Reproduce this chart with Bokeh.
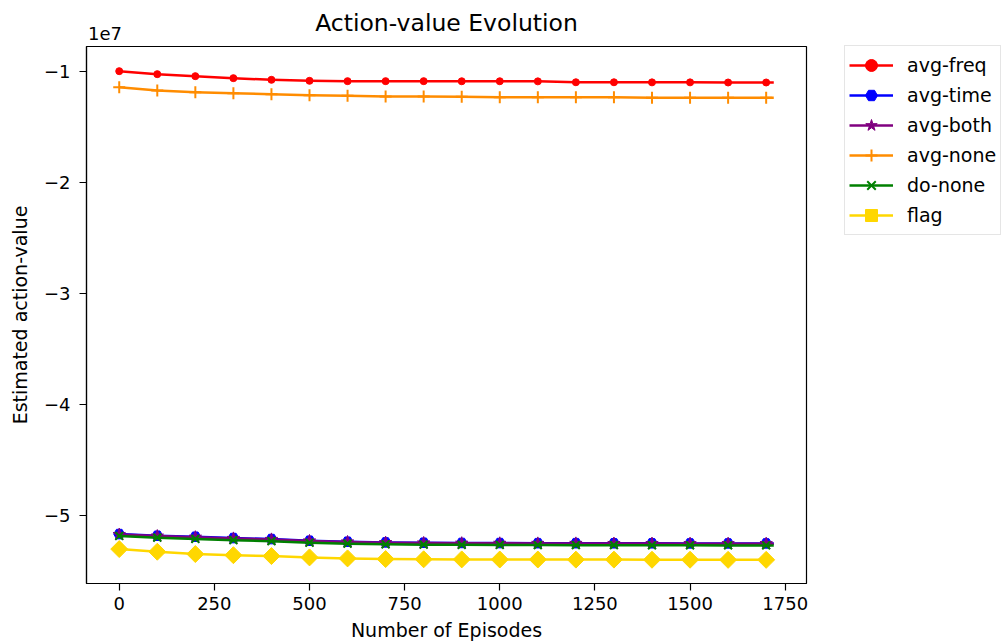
import math
from bokeh.plotting import figure
from bokeh.models import (Range1d, FixedTicker, CustomJSTickFormatter, Legend, LegendItem,
                          LinearAxis)
from bokeh.embed import file_html
from bokeh.resources import INLINE

# ---- data (values in units of 1e7) ----
episodes = [0, 100, 200, 300, 400, 500, 600, 700, 800, 900, 1000, 1100, 1200, 1300,
            1400, 1500, 1600, 1700, 1720]
n_marked = 18  # markers drawn every 100 episodes
scale = 1e7

avg_freq = [-1.000, -1.027, -1.045, -1.063, -1.078, -1.087, -1.090, -1.090, -1.090, -1.091,
            -1.091, -1.092, -1.100, -1.100, -1.101, -1.101, -1.102, -1.102, -1.102]
avg_time = [-5.168, -5.183, -5.192, -5.204, -5.213, -5.228, -5.237, -5.243, -5.246, -5.248,
            -5.249, -5.250, -5.250, -5.251, -5.251, -5.252, -5.252, -5.252, -5.252]
avg_both = [-5.172, -5.186, -5.196, -5.207, -5.216, -5.230, -5.239, -5.245, -5.248, -5.250,
            -5.251, -5.252, -5.252, -5.253, -5.253, -5.254, -5.254, -5.254, -5.254]
avg_none = [-1.144, -1.174, -1.189, -1.198, -1.207, -1.216, -1.222, -1.228, -1.228, -1.231,
            -1.234, -1.234, -1.234, -1.234, -1.240, -1.240, -1.240, -1.240, -1.240]
do_none = [-5.185, -5.200, -5.212, -5.223, -5.232, -5.246, -5.254, -5.260, -5.263, -5.265,
           -5.266, -5.267, -5.268, -5.268, -5.269, -5.269, -5.270, -5.270, -5.270]
flag = [-5.303, -5.327, -5.348, -5.358, -5.366, -5.378, -5.387, -5.393, -5.395, -5.396,
        -5.397, -5.397, -5.398, -5.398, -5.399, -5.399, -5.400, -5.400, -5.400]

series_names = ["avg-freq", "avg-time", "avg-both", "avg-none", "do-none", "flag"]
series_vals = [avg_freq, avg_time, avg_both, avg_none, do_none, flag]

x_ticks = [0, 250, 500, 750, 1000, 1250, 1500, 1750]
y_ticks = [-5, -4, -3, -2, -1]
offset_text = "1e7"
title_text = "Action-value Evolution"

# ---- styles ----
colors = ["#ff0000", "#0000ff", "#800080", "#ff8c00", "#008000", "#ffd700"]
markers = ["circle", "hex", "star", "cross", "x", "square"]
msizes = [7, 11, 13, 12, 11, 12]
mangles = [0, 0, 0, 0, 0, math.pi / 4]

FONT = "DejaVu Sans"

p = figure(frame_width=720, frame_height=537, output_backend="svg", toolbar_location=None,
           x_range=Range1d(-86, 1806), y_range=Range1d(-5.613e7, -0.778e7),
           min_border_left=86, min_border_right=197, min_border_top=46, min_border_bottom=61)

p.xgrid.visible = False
p.ygrid.visible = False
p.outline_line_color = "#000000"
p.outline_line_width = 1.2
p.outline_line_alpha = 1.0
p.background_fill_color = "white"
p.border_fill_color = "white"

for ax in (p.xaxis[0], p.yaxis[0]):
    ax.axis_line_color = "#000000"
    ax.axis_line_width = 1.2
    ax.major_tick_line_color = "#000000"
    ax.major_tick_line_width = 1.2
    ax.major_tick_in = 0
    ax.major_tick_out = 7
    ax.minor_tick_line_color = None
    ax.major_label_text_font = FONT
    ax.major_label_text_font_size = "18px"
    ax.major_label_text_color = "#000000"
    ax.axis_label_text_font = FONT
    ax.axis_label_text_font_size = "19px"
    ax.axis_label_text_font_style = "normal"
    ax.axis_label_text_color = "#000000"

p.xaxis[0].ticker = FixedTicker(ticks=x_ticks)
p.xaxis[0].major_label_standoff = 6
p.xaxis[0].axis_label = "Number of Episodes"
p.xaxis[0].axis_label_standoff = 6

p.yaxis[0].ticker = FixedTicker(ticks=[t * scale for t in y_ticks])
p.yaxis[0].formatter = CustomJSTickFormatter(
    code="return (tick/1e7).toFixed(0).replace('-', '\u2212');")
p.yaxis[0].major_label_standoff = 9
p.yaxis[0].axis_label = "Estimated action-value"
p.yaxis[0].axis_label_standoff = 10

# top axis: carries the "1e7" offset text (as its only label) and the title
top = LinearAxis(ticker=FixedTicker(ticks=[-37.5]),
                 formatter=CustomJSTickFormatter(code="return '%s';" % offset_text),
                 axis_line_color=None, major_tick_line_color=None, minor_tick_line_color=None,
                 major_tick_in=0, major_tick_out=0, major_label_standoff=7,
                 major_label_text_font=FONT, major_label_text_font_size="18px",
                 major_label_text_color="#000000",
                 axis_label=title_text, axis_label_text_font=FONT,
                 axis_label_text_font_size="23.5px", axis_label_text_font_style="normal",
                 axis_label_text_color="#000000", axis_label_standoff=-13)
p.add_layout(top, "above")

items = []
for name, vals, c, m, s, a in zip(series_names, series_vals, colors, markers, msizes, mangles):
    yv = [v * scale for v in vals]
    ln = p.line(episodes, yv, line_color=c, line_width=2.5, line_join="round")
    sc = p.scatter(episodes[:n_marked], yv[:n_marked], marker=m, size=s, angle=a,
                   fill_color=c, line_color=c, line_width=2 if m in ("cross", "x") else 1)
    items.append(LegendItem(label=name, renderers=[ln, sc]))

legend = Legend(items=items, location=(38, 348))
legend.label_text_font = FONT
legend.label_text_font_size = "19px"
legend.label_text_color = "#000000"
legend.glyph_width = 44
legend.glyph_height = 30
legend.label_height = 30
legend.spacing = 0
legend.padding = 4
legend.margin = 0
legend.label_standoff = 14
legend.border_line_color = "#cccccc"
legend.border_line_width = 1
legend.background_fill_alpha = 0.8
p.add_layout(legend, "right")

open("out.html", "w").write(file_html(p, INLINE))
